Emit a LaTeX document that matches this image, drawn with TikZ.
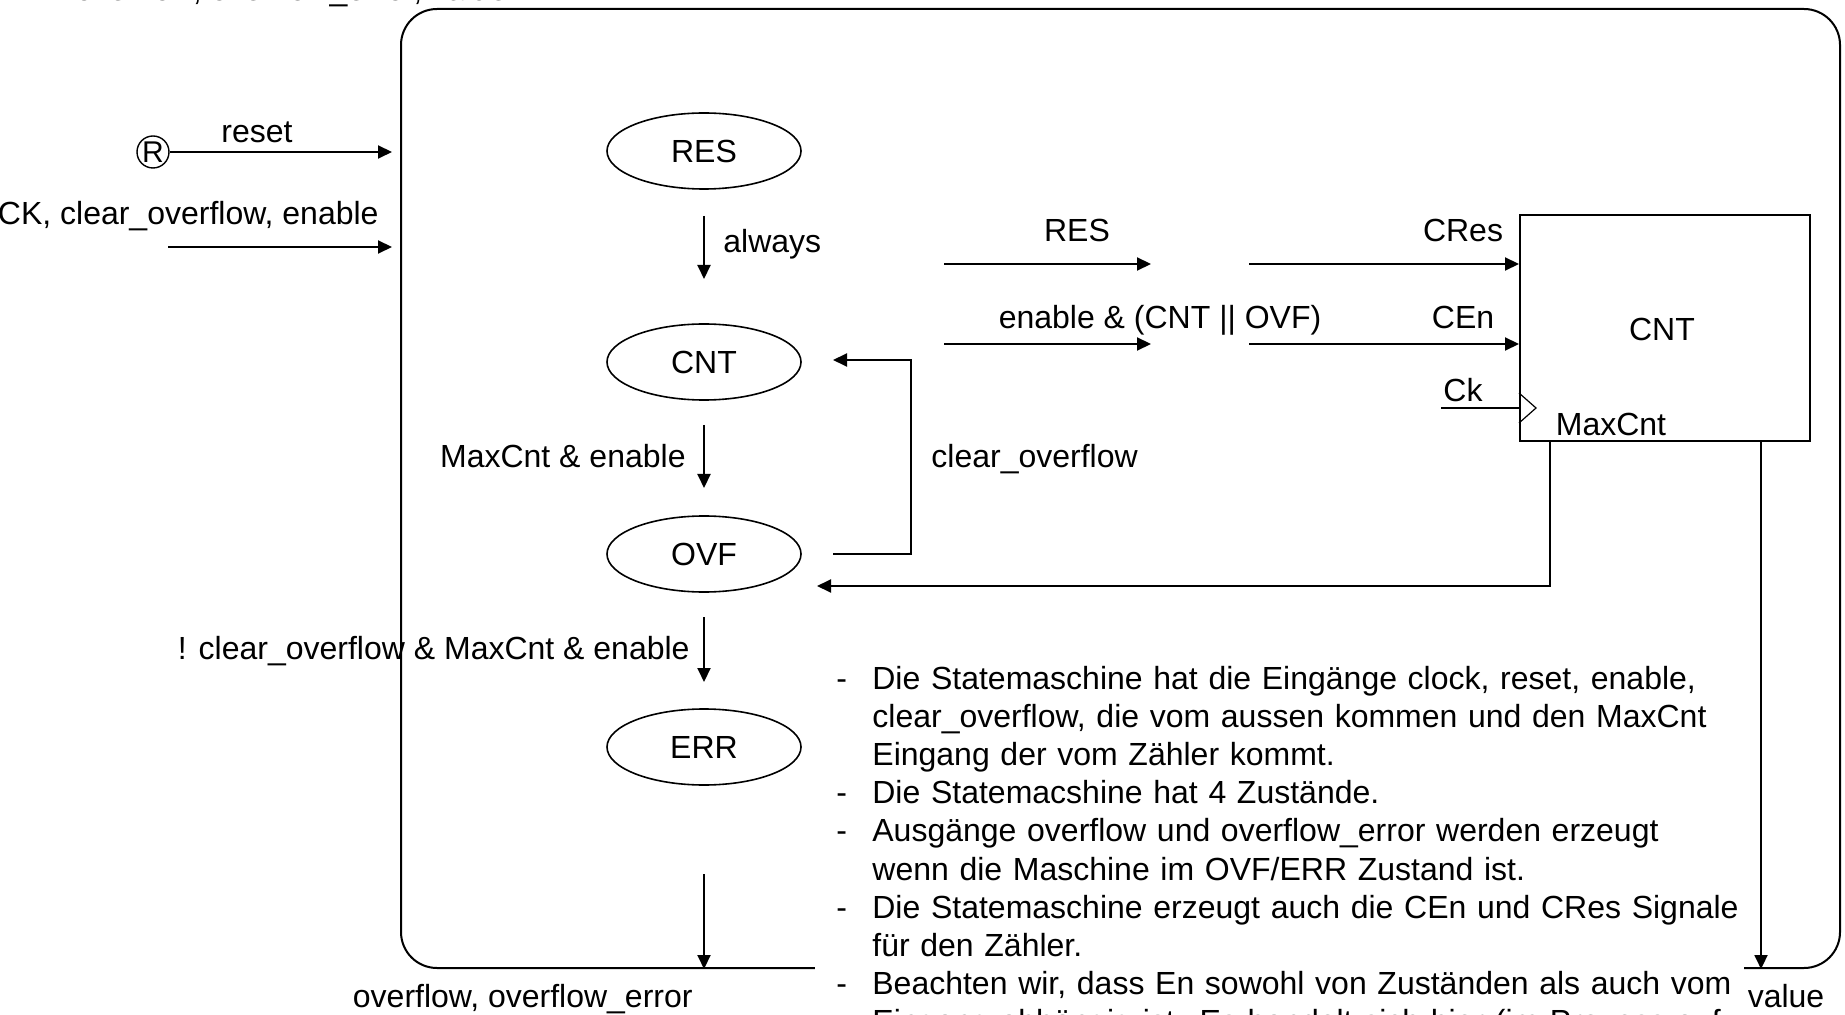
\documentclass[tikz,border=0pt]{standalone}
\usepackage{fontspec}
\setmainfont{Liberation Sans}
\usetikzlibrary{arrows.meta,shapes.geometric,calc}
% bullet and continuation indents for the notes block
\newcommand\notebullet{\hspace*{10.5pt}\makebox[18pt][l]{-}}
\newcommand\notecont{\hspace*{28.5pt}}
\begin{document}
\begin{tikzpicture}[x=0.5pt,y=-0.5pt,
  every node/.style={font=\fontsize{16pt}{19.1pt}\selectfont, inner sep=0pt},
  state/.style={ellipse, draw, line width=0.8pt, minimum width=97pt, minimum height=38pt},
  sig/.style={line width=1pt, -{Triangle[length=7pt,width=6.5pt]}},
  wire/.style={line width=1pt},
  lbl/.style={anchor=base}]
\useasboundingbox (0,0) rectangle (1845,1015);
\fill[white] (0,0) rectangle (1845,1015);

% outputs listed above the frame
\node[anchor=base west] (outtop) at (75,1) {overflow, overflow\_error, value};

% enclosing state machine frame
\node[draw, line width=1pt, rounded corners=18pt, anchor=north west,
      minimum width=719.5pt, minimum height=479.5pt] (fsm) at (400,8) {};

% external inputs
\node[circle, draw, line width=0.7pt, minimum size=16pt,
      font=\fontsize{15pt}{15pt}\selectfont] (rst) at (153,152) {R};
\coordinate (rstIn) at (392,152);
\draw[sig] (rst) -- (rstIn);
\node[lbl] (rstlbl) at (257,143) {reset};

\node[anchor=base east] (inlbl) at (379,225) {CK, clear\_overflow, enable};
\coordinate (inA) at (168,247);
\coordinate (inB) at (392,247);
\draw[sig] (inA) -- (inB);

% states
\node[state] (sRES) at (704,151) {RES};
\node[state] (sCNT) at (704,362) {CNT};
\node[state] (sOVF) at (704,554) {OVF};
\node[state] (sERR) at (704,747) {ERR};

% transitions
\coordinate (t1a) at (704,216); \coordinate (t1b) at (704,279);
\draw[sig] (t1a) -- (t1b);
\node[anchor=base west] (t1lbl) at (723,253) {always};

\coordinate (t2a) at (704,425); \coordinate (t2b) at (704,488);
\draw[sig] (t2a) -- (t2b);
\node[anchor=base east] (t2lbl) at (686,467) {MaxCnt \& enable};

\coordinate (t3a) at (704,617); \coordinate (t3b) at (704,682);
\draw[sig] (t3a) -- (t3b);
\node[anchor=base east] (t3lbl) at (690,659) {! clear\_overflow \& MaxCnt \& enable};

\coordinate (clA) at (833,554); \coordinate (clB) at (833,360);
\draw[sig] (clA) -- ++(78,0) |- (clB);
\node[anchor=base west] (cllbl) at (931,467) {clear\_overflow};

% outputs of the state machine
\coordinate (outA) at (704,874);
\draw[sig] (outA) -- (outA |- fsm.south);
\node[anchor=base east] (outlbl) at (693,1007) {overflow, overflow\_error};

% counter block
\node[draw, line width=1pt, minimum width=145pt, minimum height=113pt] (ctr) at (1665,328) {};
\node[lbl] (ctrname) at (1662,341) {CNT};
\node[lbl] (maxlbl) at (1611,436) {MaxCnt};

% control signals to the counter
\coordinate (resA) at (944,264); \coordinate (resB) at (1151,264);
\draw[sig] (resA) -- (resB);
\node[lbl] (reslbl) at (1077,242) {RES};
\coordinate (enA) at (944,344); \coordinate (enB) at (1151,344);
\draw[sig] (enA) -- (enB);
\node[lbl] (enlbl) at (1160,329) {enable \& (CNT || OVF)};

\coordinate (cresA) at (1249,264);
\draw[sig] (cresA) -- (cresA -| ctr.west);
\node[lbl] (creslbl) at (1463,242) {CRes};
\coordinate (cenA) at (1249,344);
\draw[sig] (cenA) -- (cenA -| ctr.west);
\node[lbl] (cenlbl) at (1463,329) {CEn};

\coordinate (ckA) at (1441,408);
\draw[wire] (ckA) -- (ckA -| ctr.west);
\node[lbl] (cklbl) at (1463,402) {Ck};
\draw[line width=0.6pt] ($(ckA -| ctr.west)+(0,-15)$) -- ($(ckA -| ctr.west)+(17,0)$) -- ($(ckA -| ctr.west)+(0,15)$);

% MaxCnt back to the state machine
\coordinate (fbEnd) at (817,586);
\draw[sig] ([xshift=15.5pt]ctr.south west) |- (fbEnd);

% counter value output
\coordinate (valTop) at ([xshift=-25pt]ctr.south east);
\draw[sig] (valTop) -- (valTop |- fsm.south);
\node[lbl] (vallbl) at (1786,1007) {value};

% notes
\node[anchor=base west, fill=white, text width=464.5pt, align=left] (notes) at (815,689) {%
\notebullet Die Statemaschine hat die Eingänge clock, reset, enable,\\
\notecont clear\_overflow, die vom aussen kommen und den MaxCnt\\
\notecont Eingang der vom Zähler kommt.\\
\notebullet Die Statemacshine hat 4 Zustände.\\
\notebullet Ausgänge overflow und overflow\_error werden erzeugt\\
\notecont wenn die Maschine im OVF/ERR Zustand ist.\\
\notebullet Die Statemaschine erzeugt auch die CEn und CRes Signale\\
\notecont für den Zähler.\\
\notebullet Beachten wir, dass En sowohl von Zuständen als auch vom\\
\notecont Eingang abhängig ist. Es handelt sich hier (im Prozess auf};
\end{tikzpicture}
\end{document}
